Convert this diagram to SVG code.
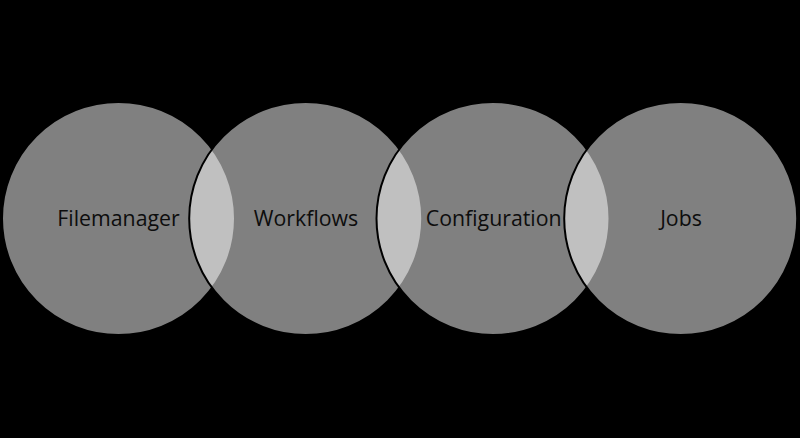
<svg xmlns="http://www.w3.org/2000/svg" width="800" height="438" viewBox="0 0 800 438">
<style>
.c{fill:#fff;fill-opacity:0.5;stroke:#000;stroke-width:2}
.t{font-family:"Open Sans","Liberation Sans",sans-serif;font-size:21.3px;fill:#0d0d0d;text-anchor:middle}
</style>
<rect width="800" height="438" fill="#000"/>
<g id="filemanager"><circle class="c" cx="118.5" cy="218.5" r="116.5"/><text class="t" x="118.5" y="226">Filemanager</text></g>
<g id="workflows"><circle class="c" cx="305.7" cy="218.5" r="116.5"/><text class="t" x="306" y="226">Workflows</text></g>
<g id="configuration"><circle class="c" cx="493" cy="218.5" r="116.5"/><text class="t" x="493.7" y="226">Configuration</text></g>
<g id="jobs"><circle class="c" cx="680.7" cy="218.5" r="116.5"/><text class="t" x="681" y="226">Jobs</text></g>
<g id="connectors"/>
</svg>
